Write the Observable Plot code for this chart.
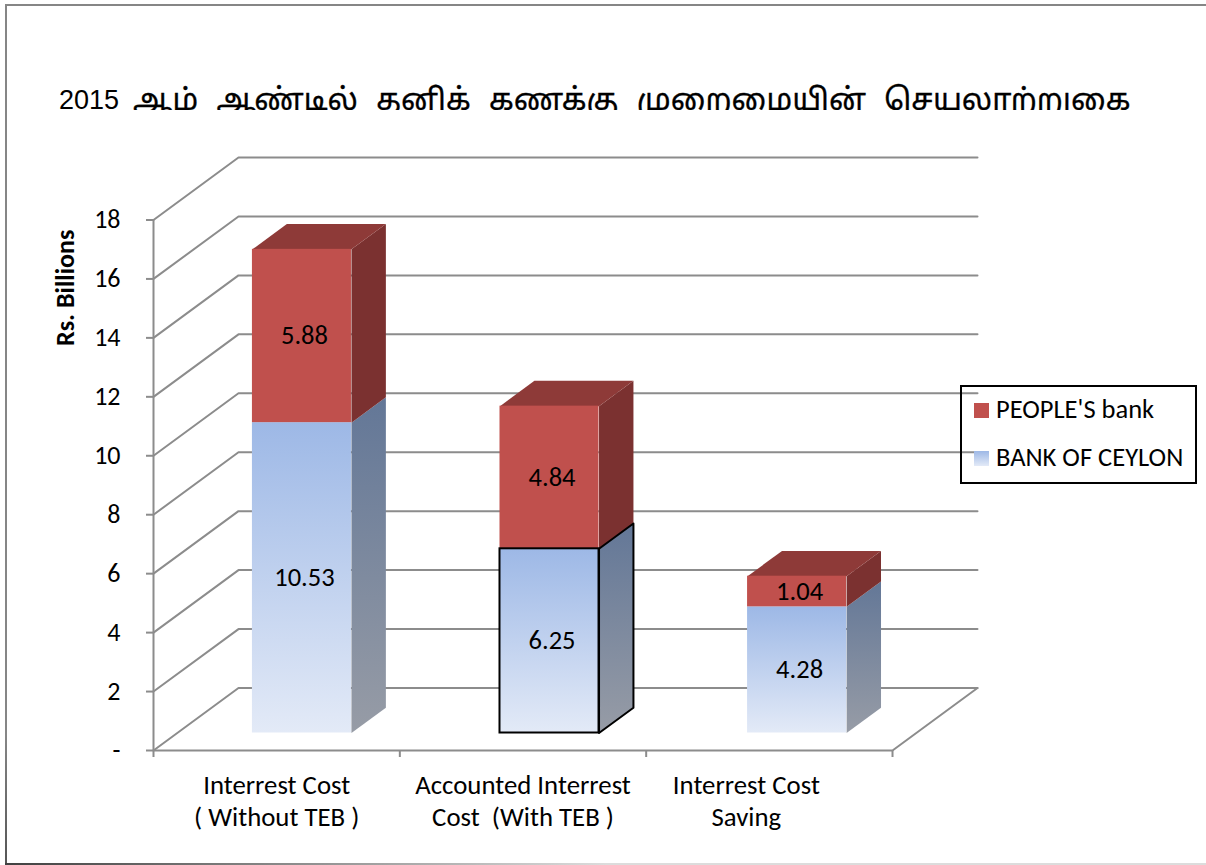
<!DOCTYPE html>
<html>
<head>
<meta charset="utf-8">
<script src="https://cdn.jsdelivr.net/npm/d3@7"></script>
<script src="https://cdn.jsdelivr.net/npm/@observablehq/plot@0.6"></script>
<style>
html,body{margin:0;padding:0;background:#fff;}
#wrap{position:relative;width:1206px;height:865px;overflow:hidden;font-family:Carlito,Lato,sans-serif;color:#000;}
#frameTop{position:absolute;left:5px;top:4px;width:1201px;height:2px;background:#868686;}
#frameLeft{position:absolute;left:5px;top:4px;width:2px;height:860px;background:linear-gradient(#868686 0,#868686 85%,#555 100%);}
#frameBottom{position:absolute;left:5px;top:863px;width:1201px;height:2px;background:linear-gradient(90deg,#404040 0,#8f8f8f 25%,#dcdcdc 50%,#dcdcdc 100%);}
#title{position:absolute;left:59px;top:72px;height:38px;width:1120px;overflow:hidden;white-space:nowrap;font-family:"Liberation Sans","Noto Sans Tamil","Noto Sans",sans-serif;font-size:27px;line-height:56px;}
#title .ta{position:absolute;left:74px;top:0;font-size:30px;word-spacing:10px;-webkit-text-stroke:0.3px #000;}
#legend{position:absolute;left:960px;top:385px;width:233px;height:95px;border:2px solid #000;}
.sw{position:absolute;left:12px;width:15px;height:15px;}
.lb{position:absolute;left:34px;font-size:26.5px;line-height:30px;white-space:nowrap;}
svg.plot{position:absolute;left:0;top:0;}
</style>
</head>
<body>
<div id="wrap">
<div id="frameTop"></div>
<div id="frameLeft"></div>
<div id="frameBottom"></div>
<div id="chart"></div>
<div id="title"></div>
<div id="legend"></div>
</div>
<script>
const titleYear = "2015";
const titleText = "ஆம் ஆண்டில் தனிக் கணக்கு முறைமையின் செயலாற்றுகை";
const categories = ["Interrest Cost\n( Without TEB )", "Accounted Interrest\nCost  (With TEB )", "Interrest Cost\nSaving"];
const bankOfCeylon = [10.53, 6.25, 4.28];
const peoplesBank = [5.88, 4.84, 1.04];
const seriesNames = ["PEOPLE'S bank", "BANK OF CEYLON"];
const outlinedCategory = 1;
const yTicks = [0, 2, 4, 6, 8, 10, 12, 14, 16, 18];
const xTicks = [0, 1, 2, 3];

// oblique projection expressed in data units of the two linear scales
const depthX = 0.345, depthY = 2.12;
const barWidth = 0.402, barCentre = 0.506, barStep = 1.005, depthFront = 0.28, depthBack = 0.685;
const P = (u, d, v) => ({x: u + d * depthX, y: v + d * depthY});
const font = "Carlito,Lato,sans-serif";

const poly = (pts, fill, extra = {}) =>
  Plot.line(pts, {x: "x", y: "y", fill, stroke: "none", curve: "linear", ...extra});

const barMarks = [];
const outlineMarks = [];
const labels = [];
categories.forEach((_, i) => {
  const u1 = i * barStep + barCentre - barWidth / 2, u2 = u1 + barWidth;
  const segs = [
    {v1: 0, v2: bankOfCeylon[i], front: "url(#blueFront)", side: "url(#blueSide)", top: null, val: bankOfCeylon[i]},
    {v1: bankOfCeylon[i], v2: bankOfCeylon[i] + peoplesBank[i], front: "#c0504d", side: "#7b3130", top: "#8e3a38", val: peoplesBank[i]}
  ];
  for (const s of segs) {
    const side = [P(u2, depthFront, s.v1), P(u2, depthBack, s.v1), P(u2, depthBack, s.v2), P(u2, depthFront, s.v2), P(u2, depthFront, s.v1)];
    barMarks.push(poly(side, s.side));
    if (s.top) {
      const top = [P(u1, depthFront, s.v2), P(u1, depthBack, s.v2), P(u2, depthBack, s.v2), P(u2, depthFront, s.v2), P(u1, depthFront, s.v2)];
      barMarks.push(poly(top, s.top));
    }
    const a = P(u1, depthFront, s.v1), b = P(u2, depthFront, s.v2);
    const face = [{x1: a.x, x2: b.x, y1: a.y, y2: b.y}];
    barMarks.push(Plot.rect(face, {x1: "x1", x2: "x2", y1: "y1", y2: "y2", fill: s.front}));
    labels.push({x: (a.x + b.x) / 2, y: (a.y + b.y) / 2, t: s.val.toFixed(2)});
    if (i === outlinedCategory && s.top === null) {
      outlineMarks.push(Plot.rect(face, {x1: "x1", x2: "x2", y1: "y1", y2: "y2", fill: "none", stroke: "#000", strokeWidth: 2}));
      outlineMarks.push(poly(side, "none", {stroke: "#000", strokeWidth: 2}));
    }
  }
});

const gridColor = "#8c8c8c";
const gridMarks = yTicks.map(v => poly([P(0, 0, v), P(0, 1, v), P(3, 1, v)], "none", {stroke: gridColor, strokeWidth: 2}));
const floorEdge = poly([P(0, 0, 0), P(3, 0, 0), P(3, 1, 0)], "none", {stroke: gridColor, strokeWidth: 2});

const chart = Plot.plot({
  width: 1206, height: 865,
  marginLeft: 153, marginRight: 229, marginTop: 157, marginBottom: 115,
  style: {background: "transparent", overflow: "visible"},
  x: {domain: [0, 3 + depthX]},
  y: {domain: [0, 18 + depthY]},
  marks: [
    ...gridMarks,
    floorEdge,
    Plot.ruleX([0], {y1: 0, y2: 18, stroke: gridColor, strokeWidth: 2}),
    Plot.axisY({ticks: yTicks, tickFormat: v => v === 0 ? "-" : v, tickSize: 7, tickPadding: 26, stroke: gridColor, strokeWidth: 2, strokeOpacity: 1, fontSize: 26, fontFamily: font, fill: "#000", label: null}),
    Plot.axisX({ticks: xTicks, tickFormat: () => "", tickSize: 7, stroke: gridColor, strokeWidth: 2, strokeOpacity: 1, label: null}),
    ...barMarks,
    ...outlineMarks,
    Plot.text(labels, {x: "x", y: "y", dx: 2.5, text: "t", fontSize: 26.5, fontFamily: font, fill: "#000"}),
    Plot.text(categories.slice(0, 2), {x: (d, i) => i + 0.5, frameAnchor: "bottom", dy: 49, text: d => d, lineAnchor: "middle", lineHeight: 1.2, fontSize: 26.8, fontFamily: font, fill: "#000"}),
    Plot.text(categories.slice(2), {x: () => 2.5, dx: -23, frameAnchor: "bottom", dy: 49, text: d => d, lineAnchor: "middle", lineHeight: 1.2, fontSize: 26.8, fontFamily: font, fill: "#000"}),
    Plot.text(["Rs. Billions"], {x: () => 0, y: () => 15.7, dx: -88, rotate: -90, text: d => d, fontSize: 26, fontWeight: "bold", fontFamily: font, fill: "#000"})
  ]
});
chart.insertAdjacentHTML("afterbegin", `<defs>
<linearGradient id="blueFront" x1="0" y1="0" x2="0" y2="1"><stop offset="0" stop-color="#9db8e6"/><stop offset="1" stop-color="#e3eaf7"/></linearGradient>
<linearGradient id="blueSide" x1="0" y1="0" x2="0" y2="1"><stop offset="0" stop-color="#637797"/><stop offset="1" stop-color="#979ca6"/></linearGradient>
</defs>`);
document.getElementById("chart").appendChild(chart);
const titleEl = document.getElementById("title");
titleEl.textContent = titleYear;
const ta = document.createElement("span");
ta.className = "ta";
ta.textContent = titleText;
titleEl.appendChild(ta);
const legend = document.getElementById("legend");
const colors = ["#c0504d", "linear-gradient(#9db8e6,#e3eaf7)"];
const tops = [16, 64];
seriesNames.forEach((n, i) => {
  legend.insertAdjacentHTML("beforeend", `<div class="sw" style="top:${tops[i]}px;background:${colors[i]}"></div><div class="lb" style="top:${tops[i] - 9}px">${n}</div>`);
});
</script>
</body>
</html>
